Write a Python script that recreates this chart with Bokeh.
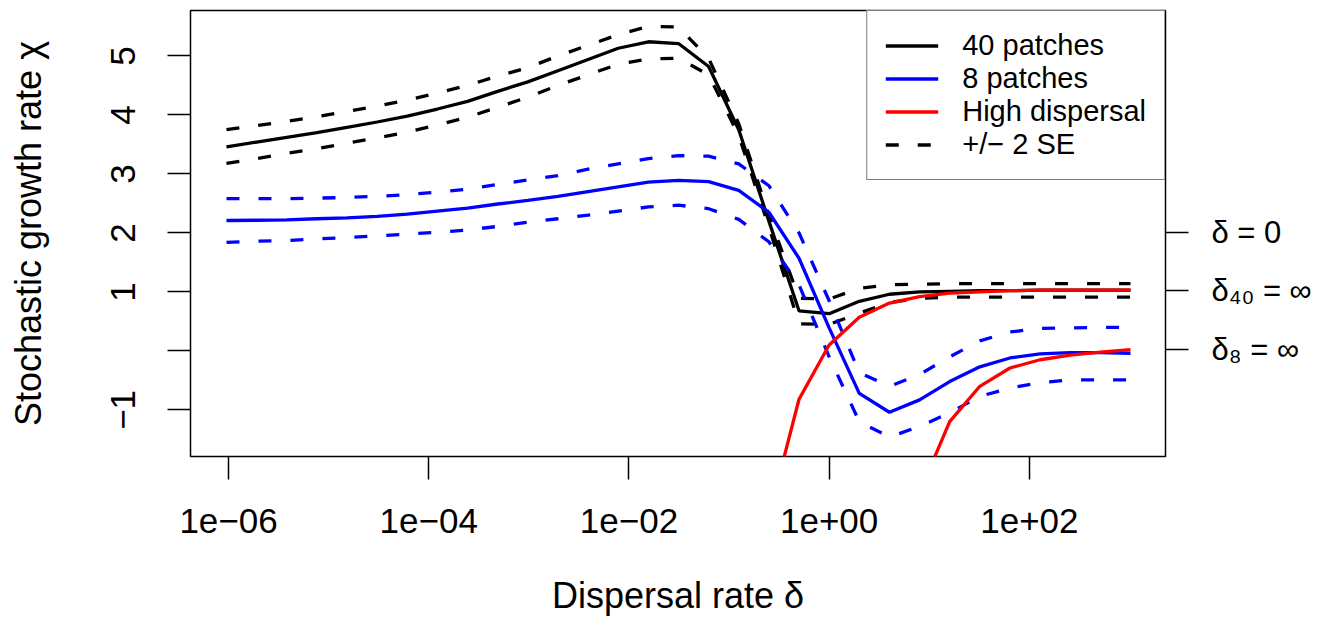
from bokeh.plotting import figure
from bokeh.models import (FixedTicker, LinearAxis, Legend, LegendItem,
                          CustomJSTickFormatter, Range1d)
from bokeh.embed import file_html
from bokeh.resources import INLINE

# ---------------- data ----------------
dispersal = [9.5367e-07, 1.9073e-06, 3.8147e-06, 7.6294e-06, 1.5259e-05,
             3.0518e-05, 6.1035e-05, 1.2207e-04, 2.4414e-04, 4.8828e-04,
             9.7656e-04, 1.9531e-03, 3.9063e-03, 7.8125e-03, 0.015625,
             0.03125, 0.0625, 0.125, 0.25, 0.5, 1, 2, 4, 8, 16, 32, 64,
             128, 256, 512, 1024]

chi40 = [3.46, 3.54, 3.62, 3.70, 3.79, 3.88, 3.98, 4.10, 4.23, 4.40, 4.56,
         4.75, 4.94, 5.13, 5.24, 5.21, 4.82, 3.75, 2.20, 0.68, 0.63, 0.84,
         0.96, 1.00, 1.01, 1.02, 1.02, 1.03, 1.03, 1.03, 1.03]
chi40_hi = [3.75, 3.82, 3.89, 3.97, 4.06, 4.15, 4.25, 4.37, 4.50, 4.66, 4.80,
            5.00, 5.18, 5.36, 5.50, 5.49, 4.96, 3.85, 2.30, 0.89, 0.88, 1.06,
            1.12, 1.13, 1.14, 1.14, 1.14, 1.14, 1.14, 1.14, 1.14]
chi40_lo = [3.18, 3.26, 3.35, 3.43, 3.52, 3.61, 3.71, 3.83, 3.96, 4.13, 4.30,
            4.50, 4.68, 4.86, 4.95, 4.96, 4.68, 3.65, 2.10, 0.46, 0.45, 0.64,
            0.82, 0.89, 0.91, 0.91, 0.91, 0.91, 0.91, 0.91, 0.91]

chi8 = [2.21, 2.215, 2.22, 2.24, 2.255, 2.28, 2.32, 2.37, 2.42, 2.49, 2.55,
        2.62, 2.70, 2.78, 2.86, 2.89, 2.87, 2.72, 2.35, 1.57, 0.39, -0.72,
        -1.04, -0.83, -0.52, -0.27, -0.12, -0.05, -0.03, -0.03, -0.04]
chi8_hi = [2.58, 2.58, 2.58, 2.59, 2.60, 2.62, 2.65, 2.69, 2.74, 2.82, 2.90,
           2.97, 3.08, 3.17, 3.26, 3.31, 3.30, 3.17, 2.80, 2.00, 0.85, -0.37,
           -0.60, -0.40, -0.10, 0.17, 0.32, 0.38, 0.39, 0.40, 0.40]
chi8_lo = [1.84, 1.86, 1.87, 1.90, 1.92, 1.95, 1.98, 2.01, 2.05, 2.11, 2.18,
           2.24, 2.30, 2.37, 2.44, 2.47, 2.41, 2.23, 1.85, 1.12, -0.10, -1.20,
           -1.46, -1.28, -1.05, -0.77, -0.63, -0.54, -0.49, -0.49, -0.49]

high40_delta = [0.25, 0.5, 1, 2, 4, 8, 16, 32, 64, 128, 256, 512, 1024]
high40 = [-2.80, -0.82, 0.10, 0.57, 0.81, 0.92, 0.98, 1.00, 1.02, 1.03,
          1.03, 1.03, 1.03]
high8_delta = [8, 16, 32, 64, 128, 256, 512, 1024]
high8 = [-2.40, -1.20, -0.60, -0.29, -0.15, -0.07, -0.02, 0.02]

x_ticks = [1e-6, 1e-4, 1e-2, 1, 100]
y_ticks = [-1, 0, 1, 2, 3, 4, 5]
y_unlabelled = [0]
right_ticks = [2.0, 1.03, 0.02]
right_labels = ["δ = 0", "δ₄₀ = ∞", "δ₈ = ∞"]

legend_labels = ["40 patches", "8 patches", "High dispersal", "+/\u2212 2 SE"]

FONT = "Liberation Sans"
LW = 3.3
DASH = "13 19"

# ---------------- figure ----------------
p = figure(width=1317, height=618, x_axis_type="log",
           x_range=Range1d(10 ** -6.38, 10 ** 3.36),
           y_range=Range1d(-1.79, 5.77),
           output_backend="svg", toolbar_location=None,
           min_border_left=190, min_border_right=152,
           min_border_top=10, min_border_bottom=161)
p.background_fill_color = "white"
p.border_fill_color = "white"
p.outline_line_color = "black"
p.outline_line_width = 1.5
p.xgrid.visible = False
p.ygrid.visible = False

r40 = p.line(dispersal, chi40, line_color="black", line_width=LW)
r40h = p.line(dispersal, chi40_hi, line_color="black", line_width=LW, line_dash=DASH)
p.line(dispersal, chi40_lo, line_color="black", line_width=LW, line_dash=DASH)
r8 = p.line(dispersal, chi8, line_color="blue", line_width=LW)
p.line(dispersal, chi8_hi, line_color="blue", line_width=LW, line_dash=DASH)
p.line(dispersal, chi8_lo, line_color="blue", line_width=LW, line_dash=DASH)
rh = p.line(high40_delta, high40, line_color="red", line_width=LW)
p.line(high8_delta, high8, line_color="red", line_width=LW)

# ---------------- axes ----------------
def style_axis(ax, size="35px"):
    ax.axis_line_color = None
    ax.major_tick_line_color = "black"
    ax.major_tick_line_width = 1.5
    ax.major_tick_out = 23
    ax.major_tick_in = 0
    ax.minor_tick_line_color = None
    ax.major_label_text_font = FONT
    ax.major_label_text_font_size = size
    ax.major_label_text_color = "black"
    ax.axis_label_text_font = FONT
    ax.axis_label_text_font_size = "36px"
    ax.axis_label_text_font_style = "normal"
    ax.axis_label_text_color = "black"

xa = p.xaxis[0]
style_axis(xa)
xa.ticker = FixedTicker(ticks=x_ticks, minor_ticks=[])
xa.formatter = CustomJSTickFormatter(code="""
const e = Math.round(Math.log10(tick));
const a = Math.abs(e);
return "1e" + (e < 0 ? "\\u2212" : "+") + (a < 10 ? "0" : "") + a;
""")
xa.axis_label = "Dispersal rate δ"
xa.major_label_standoff = 29
xa.axis_label_standoff = 39

ya = p.yaxis[0]
style_axis(ya)
ya.ticker = FixedTicker(ticks=y_ticks, minor_ticks=[])
ya.major_label_overrides = {v: "" for v in y_unlabelled}
ya.major_label_orientation = "vertical"
ya.axis_label = "Stochastic growth rate χ"
ya.major_label_standoff = 32
ya.axis_label_standoff = 60

ra = LinearAxis(ticker=FixedTicker(ticks=right_ticks, minor_ticks=[]))
style_axis(ra, "31px")
ra.major_label_overrides = dict(zip(right_ticks, right_labels))
ra.major_label_standoff = 23
p.add_layout(ra, "right")

# ---------------- legend ----------------
legend = Legend(items=[LegendItem(label=legend_labels[0], renderers=[r40]),
                       LegendItem(label=legend_labels[1], renderers=[r8]),
                       LegendItem(label=legend_labels[2], renderers=[rh]),
                       LegendItem(label=legend_labels[3], renderers=[r40h])],
                location="top_right", margin=0, padding=18, spacing=0,
                glyph_width=53, glyph_height=33, label_height=33,
                label_standoff=24,
                label_text_font=FONT, label_text_font_size="29px",
                label_text_color="black",
                border_line_color="black", border_line_width=1.5,
                background_fill_color="white", background_fill_alpha=1.0)
p.add_layout(legend, "center")

open("out.html", "w", encoding="utf-8").write(file_html(p, INLINE))
